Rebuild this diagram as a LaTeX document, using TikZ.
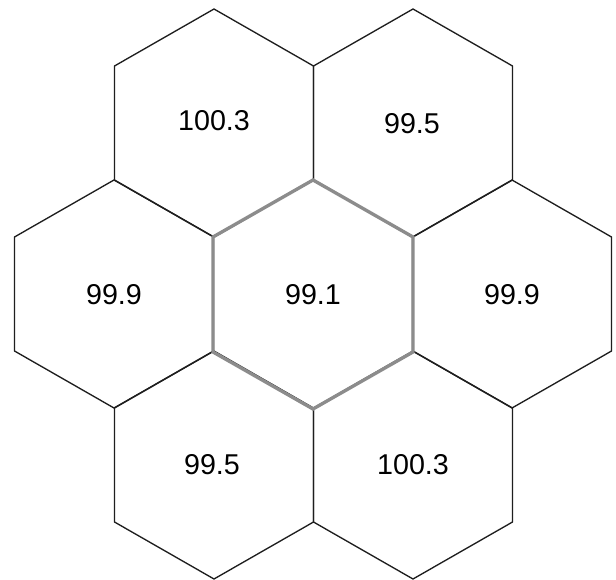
\documentclass[tikz,border=0pt]{standalone}
\usepackage{fontspec}
\setmainfont{Liberation Sans}
\definecolor{hexblack}{RGB}{30,30,30}
\definecolor{hexgray}{RGB}{140,140,140}
\tikzset{
  hexline/.style={draw=hexblack, line width=1pt, line join=miter},
  hexcenter/.style={draw=hexgray, line width=2.5pt, line join=miter},
  lbl/.style={font=\fontsize{21.5}{25}\selectfont, text=black, inner sep=0pt}
}
\begin{document}
\begin{tikzpicture}[x=0.75pt, y=-0.75pt]
\useasboundingbox (0,0) rectangle (616,580);
\fill[white] (0,0) rectangle (616,580);
% outer hexagons
\foreach \cx/\cy in {214/123, 413/123, 114/294, 512/294, 214/465, 413/465}{
  \draw[hexline] (\cx,\cy-114) -- (\cx+99.5,\cy-57) -- (\cx+99.5,\cy+57)
     -- (\cx,\cy+114) -- (\cx-99.5,\cy+57) -- (\cx-99.5,\cy-57) -- cycle;
}
% centre hexagon
\draw[hexcenter] (313,180) -- (413,237) -- (413,352) -- (313,409)
   -- (213,352) -- (213,237) -- cycle;
% labels
\node[lbl] (tl) at (214,121) {100.3};
\node[lbl] (tr) at (412,124) {99.5};
\node[lbl] (ml) at (114,295) {99.9};
\node[lbl] (mc) at (313,295) {99.1};
\node[lbl] (mr) at (512,295) {99.9};
\node[lbl] (bl) at (212,465) {99.5};
\node[lbl] (br) at (413,465) {100.3};
\end{tikzpicture}
\end{document}
